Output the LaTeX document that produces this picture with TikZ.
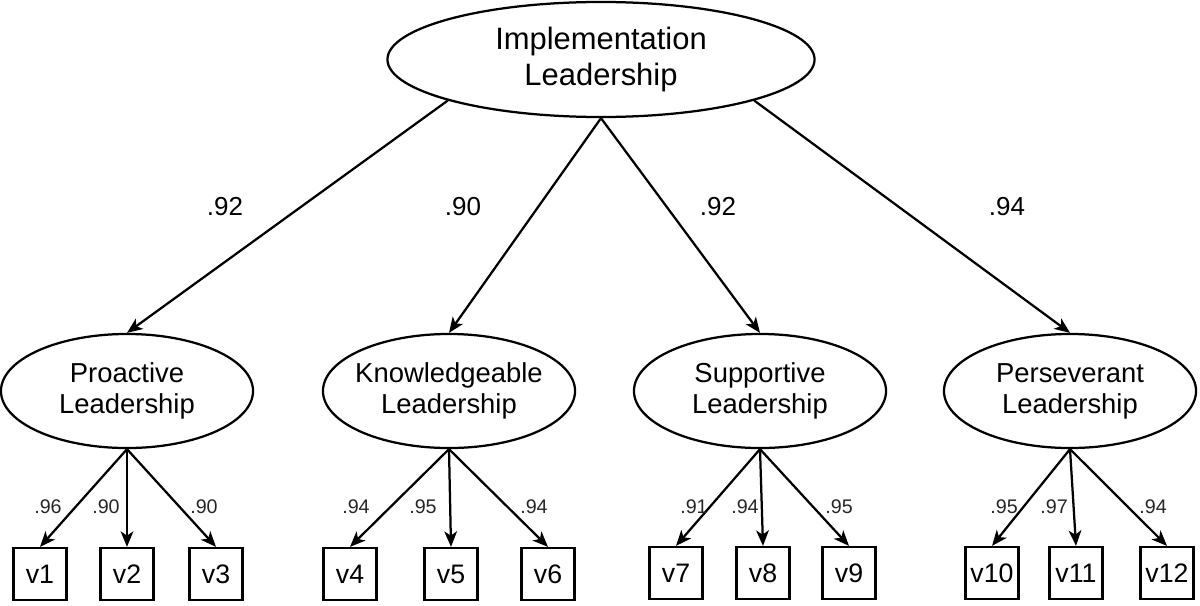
\documentclass[tikz,border=0pt]{standalone}
\usepackage{fontspec}
\setmainfont{Liberation Sans}
\usetikzlibrary{arrows.meta,shapes.geometric}

\tikzset{
  factor/.style={ellipse, draw, line width=1.6pt, align=center, inner sep=0pt, inner xsep=-12pt,
    minimum width=6.3cm, minimum height=2.85cm, font=\fontsize{19.5}{22}\selectfont},
  itembox/.style={rectangle, draw, line width=1.6pt, inner sep=0pt,
    minimum width=1.325cm, minimum height=1.3cm, font=\fontsize{19}{22}\selectfont},
  loadarrow/.style={-{Stealth[length=11pt, width=9pt, inset=3pt]}, line width=1.6pt},
  bigload/.style={font=\fontsize{18.5}{22}\selectfont},
  smallload/.style={font=\fontsize{14}{16}\selectfont, text=black!85}
}

\begin{document}
\begin{tikzpicture}[x=0.025cm, y=-0.025cm]
  \useasboundingbox (0,0) rectangle (1200,605);
  % Draw second-order factor
  \node[factor, minimum width=10.675cm, minimum height=2.875cm,
    font=\fontsize{22}{25}\selectfont] (impl) at (601,59.5) {Implementation\\Leadership};
  % Draw first-order factors
  \node[factor] (pro) at (127,391) {Proactive\\Leadership};
  \node[factor] (know) at (449,391) {Knowledgeable\\Leadership};
  \node[factor] (supp) at (760,391) {Supportive\\Leadership};
  \node[factor] (pers) at (1070,391) {Perseverant\\Leadership};
  % Draw indicators
  \node[itembox] (v1) at (40,574) {v1};
  \node[itembox] (v2) at (127,574) {v2};
  \node[itembox] (v3) at (216,574) {v3};
  \node[itembox] (v4) at (350,574) {v4};
  \node[itembox] (v5) at (451,574) {v5};
  \node[itembox] (v6) at (548,574) {v6};
  \node[itembox] (v7) at (676,573) {v7};
  \node[itembox] (v8) at (763,573) {v8};
  \node[itembox] (v9) at (849,573) {v9};
  \node[itembox] (v10) at (992,573) {v10};
  \node[itembox] (v11) at (1076,573) {v11};
  \node[itembox] (v12) at (1167,573) {v12};
  % Draw paths from second-order factor
  \draw[loadarrow] (impl.195) -- (pro.north);
  \draw[loadarrow] (impl.south) -- (know.north);
  \draw[loadarrow] (impl.south) -- (supp.north);
  \draw[loadarrow] (impl.345) -- (pers.north);
  % Draw paths to indicators
  \foreach \f/\a/\b/\c in {pro/v1/v2/v3, know/v4/v5/v6, supp/v7/v8/v9, pers/v10/v11/v12} {
    \draw[loadarrow] (\f.south) -- (\a.north);
    \draw[loadarrow] (\f.south) -- (\b.north);
    \draw[loadarrow] (\f.south) -- (\c.north);
  }
  % Draw loadings
  \node[bigload] (l1) at (225,207) {.92};
  \node[bigload] (l2) at (463,207) {.90};
  \node[bigload] (l3) at (718,207) {.92};
  \node[bigload] (l4) at (1007,207) {.94};
  \node[smallload] (lv1) at (48,507) {.96};
  \node[smallload] (lv2) at (106,507) {.90};
  \node[smallload] (lv3) at (204,507) {.90};
  \node[smallload] (lv4) at (356,507) {.94};
  \node[smallload] (lv5) at (423,507) {.95};
  \node[smallload] (lv6) at (534,507) {.94};
  \node[smallload] (lv7) at (694,507) {.91};
  \node[smallload] (lv8) at (745,507) {.94};
  \node[smallload] (lv9) at (839,507) {.95};
  \node[smallload] (lv10) at (1004,507) {.95};
  \node[smallload] (lv11) at (1054,507) {.97};
  \node[smallload] (lv12) at (1153,507) {.94};
\end{tikzpicture}
\end{document}
